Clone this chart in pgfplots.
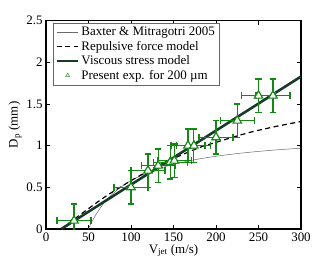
\documentclass[border=0pt]{standalone}
\usepackage{fontspec}
\setmainfont{Liberation Serif}
\usepackage{pgfplots}
\usepackage{pgfplotstable}
\pgfplotsset{compat=1.18}
\definecolor{expgreen}{RGB}{20,135,20}
\definecolor{visc}{RGB}{22,60,40}
\definecolor{bax}{RGB}{105,105,105}
\pgfplotstableread{
x y ex ey
33 0.10 20 0.2
100 0.50 20 0.2
120 0.70 20 0.2
132 0.76 20 0.2
146 0.80 20 0.2
151 0.82 20 0.2
167 1.00 20 0.2
174 1.00 20 0.2
200 1.10 20 0.2
225 1.30 20 0.2
250 1.60 20 0.2
267 1.60 20 0.2
}\expdata
\pgfplotsset{capstyle/.style={forget plot, only marks, expgreen, mark size=3.2bp,
  mark options={line width=1.2pt, draw=expgreen, solid}}}
\begin{document}
\begin{tikzpicture}
\begin{axis}[
  scale only axis, width=255bp, height=208.3bp,
  xmin=0, xmax=300, ymin=0, ymax=2.5,
  xtick={0,50,...,300}, ytick={0,0.5,...,2.5},
  yticklabels={0,0.5,1,1.5,2,2.5},
  tick align=inside, major tick length=4bp,
  axis line style={line width=1.3pt},
  every tick/.style={black, line width=0.8pt},
  font=\fontsize{13}{15}\selectfont,
  /pgf/number format/assume math mode=true,
  ticklabel style={font=\fontsize{13}{15}\selectfont},
  xlabel={V\textsubscript{jet} (m/s)},
  ylabel={D\textsubscript{p} (mm)},
  xlabel style={yshift=4bp},
  ylabel style={yshift=-2bp},
  legend cell align=left,
  legend style={at={(0.0286,0.99)}, anchor=north west, draw=black!60, line width=0.6pt,
    font=\fontsize{13}{15}\selectfont, inner sep=2bp, row sep=0pt},
  legend image code/.code={\draw[mark repeat=2,mark phase=2] plot coordinates {(0cm,0cm) (0.38cm,0cm) (0.75cm,0cm)};},
]
\addplot[bax, line width=0.5pt, smooth] coordinates {
(50,0) (52,0.0448) (55,0.1058) (60,0.194) (65,0.2686) (70,0.3326) (80,0.4365) (90,0.5173)
(100,0.582) (120,0.679) (140,0.7483) (160,0.8003) (180,0.8407) (200,0.873) (225,0.9053)
(250,0.9312) (275,0.9524) (300,0.97)};
\addlegendentry{Baxter \& Mitragotri 2005}
\addplot[black, line width=1.2pt, dash pattern=on 5bp off 3.5bp, smooth] coordinates {
(18,0) (40,0.17) (70,0.39) (100,0.58) (130,0.75) (160,0.89) (181,0.98) (200,1.04)
(216,1.09) (240,1.16) (270,1.23) (300,1.29)};
\addlegendentry{Repulsive force model}
\addplot[visc, line width=2.6pt] coordinates {(18,0) (300,1.83)};
\addlegendentry{Viscous stress model}
\addplot[forget plot, only marks, mark=none, draw=expgreen, line width=1.2pt,
  error bars/.cd, y dir=both, y explicit, error mark=none,
  error bar style={line width=1.2pt, draw=expgreen, solid}]
  table[x=x, y=y, y error=ey] {\expdata};
\addplot[forget plot, only marks, mark=none, draw=expgreen, line width=1.2pt,
  error bars/.cd, x dir=both, x explicit, error mark=none,
  error bar style={line width=1.2pt, draw=expgreen, solid}]
  table[x=x, y=y, x error=ex] {\expdata};
\addplot[capstyle, mark=-] table[x=x, y expr=\thisrow{y}+\thisrow{ey}] {\expdata};
\addplot[capstyle, mark=-] table[x=x, y expr=\thisrow{y}-\thisrow{ey}] {\expdata};
\addplot[capstyle, mark=|] table[x expr=\thisrow{x}+\thisrow{ex}, y=y] {\expdata};
\addplot[capstyle, mark=|] table[x expr=\thisrow{x}-\thisrow{ex}, y=y] {\expdata};
\addplot[forget plot, expgreen, only marks, mark=triangle*, mark size=4.9pt,
  mark options={fill=white, draw=expgreen, line width=1.2pt, solid}]
  table[x=x, y=y] {\expdata};
\addlegendimage{only marks, mark=triangle*, mark size=2.3pt,
  mark options={fill=white, draw=expgreen!80, line width=0.6pt, solid}}
\addlegendentry{Present exp. for 200 \textmu m}
\end{axis}
\path (current axis.south west) ++(-46bp,-41bp) rectangle ++(332bp,270bp);
\end{tikzpicture}
\end{document}
